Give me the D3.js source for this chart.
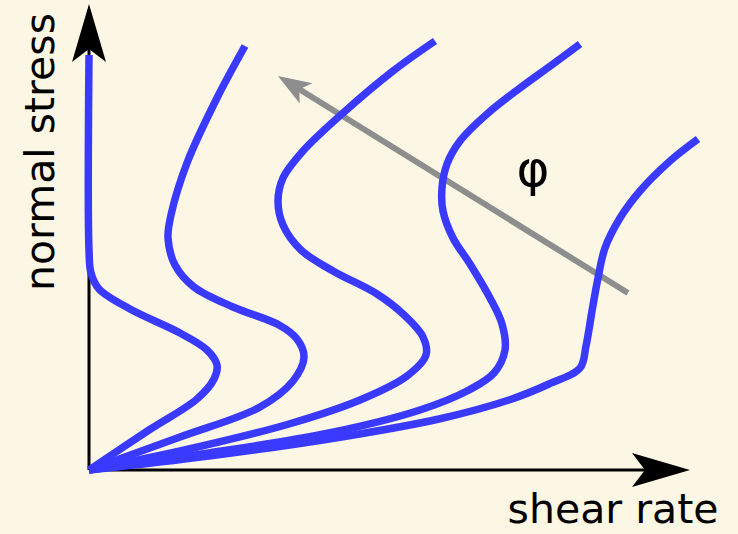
<!DOCTYPE html>
<html>
<head>
<meta charset="utf-8">
<script src="https://cdn.jsdelivr.net/npm/d3@7/dist/d3.min.js"></script>
<style>
  html, body { margin: 0; padding: 0; background: #fcf6e5; }
  svg { display: block; }
  text { font-family: "DejaVu Sans", sans-serif; fill: #000; }
</style>
</head>
<body>
<svg id="chart" width="738" height="534"></svg>
<script>
// Normal stress vs. shear rate for increasing volume fraction φ (schematic, arbitrary units).
// Each curve is a list of [shear rate, normal stress] points.
const curvePhi1 = [[0,0],[60,40],[108,71],[125,91],[128,105],[118,120],[91,137],[41,161],[10,181],[2,197],[0,220],[0,415]];
const curvePhi2 = [[0,0],[91,33],[171,63],[204,89],[215,113],[208,131],[190,145],[144,163],[105,183],[86,205],[79,232],[82,255],[98,307],[128,372],[156,424]];
const curvePhi3 = [[0,0],[100,21],[200,46],[271,70],[318,94],[337,115],[334,133],[314,156],[288,176],[244,199],[212,220],[194,245],[189,269],[194,292],[214,319],[254,357],[304,399],[346,429]];
const curvePhi4 = [[0,0],[120,17],[240,37],[331,60],[380,80],[405,97],[416,120],[413,146],[401,172],[381,206],[364,232],[354,259],[353,282],[358,306],[371,329],[398,356],[431,382],[464,406],[491,426]];
const curvePhi5 = [[0,0],[120,14],[240,31],[350,51],[420,70],[460,86],[491,102],[497,124],[503,159],[509,192],[516,222],[531,252],[551,279],[581,309],[609,331]];
const curves = [curvePhi1, curvePhi2, curvePhi3, curvePhi4, curvePhi5];

// Direction of increasing φ: [start, end] in the same units
const phiArrow = [[539, 177], [189, 394]];
const phiLabel = "φ";
const xLabel = "shear rate";
const yLabel = "normal stress";
const xAxisEnd = 601;
const yAxisEnd = 466;

const svg = d3.select("#chart");
svg.append("rect").attr("width", 738).attr("height", 534).attr("fill", "#fcf6e5");

const x = d3.scaleLinear().domain([0, 600]).range([89, 689]);
const y = d3.scaleLinear().domain([0, 464]).range([470, 6]);

// arrowhead pointing along +x, tip at origin
const headPath = "M0,0 L-58,-17 L-45,0 L-58,17 Z";

// axis lines
svg.append("line")
  .attr("x1", x(0)).attr("y1", y(0))
  .attr("x2", x(xAxisEnd) - 44).attr("y2", y(0))
  .attr("stroke", "#000").attr("stroke-width", 3);
svg.append("line")
  .attr("x1", x(0)).attr("y1", y(0))
  .attr("x2", x(0)).attr("y2", y(yAxisEnd) + 44)
  .attr("stroke", "#000").attr("stroke-width", 3);

// φ direction arrow
const [p0, p1] = phiArrow;
const ax0 = x(p0[0]), ay0 = y(p0[1]), ax1 = x(p1[0]), ay1 = y(p1[1]);
const ang = Math.atan2(ay1 - ay0, ax1 - ax0);
const grayHeadLen = 17;
svg.append("line")
  .attr("x1", ax0).attr("y1", ay0)
  .attr("x2", ax1 - grayHeadLen * Math.cos(ang)).attr("y2", ay1 - grayHeadLen * Math.sin(ang))
  .attr("stroke", "#8e8e8e").attr("stroke-width", 6);
svg.append("path")
  .attr("d", "M0,0 L-33,-12 L-25,0 L-33,12 Z")
  .attr("fill", "#8e8e8e")
  .attr("transform", `translate(${ax1},${ay1}) rotate(${ang * 180 / Math.PI})`);

// curves
const line = d3.line()
  .x(d => x(d[0]))
  .y(d => y(d[1]))
  .curve(d3.curveCatmullRom.alpha(0.5));

svg.append("g").selectAll("path")
  .data(curves)
  .join("path")
  .attr("d", line)
  .attr("fill", "none")
  .attr("stroke", "#3a3aff")
  .attr("stroke-width", 7.5)
  .attr("stroke-linecap", "butt")
  .attr("stroke-linejoin", "round");

// axis arrowheads
svg.append("path").attr("d", headPath).attr("fill", "#000")
  .attr("transform", `translate(${x(xAxisEnd)},${y(0)})`);
svg.append("path").attr("d", headPath).attr("fill", "#000")
  .attr("transform", `translate(${x(0)},${y(yAxisEnd)}) rotate(-90)`);

// labels
svg.append("text")
  .attr("x", 613).attr("y", 523)
  .attr("text-anchor", "middle")
  .attr("font-size", 41)
  .text(xLabel);
svg.append("text")
  .attr("transform", "translate(54,152) rotate(-90)")
  .attr("text-anchor", "middle")
  .attr("font-size", 41)
  .text(yLabel);
svg.append("text")
  .attr("x", 533).attr("y", 186)
  .attr("text-anchor", "middle")
  .attr("font-size", 50)
  .text(phiLabel);
</script>
</body>
</html>
